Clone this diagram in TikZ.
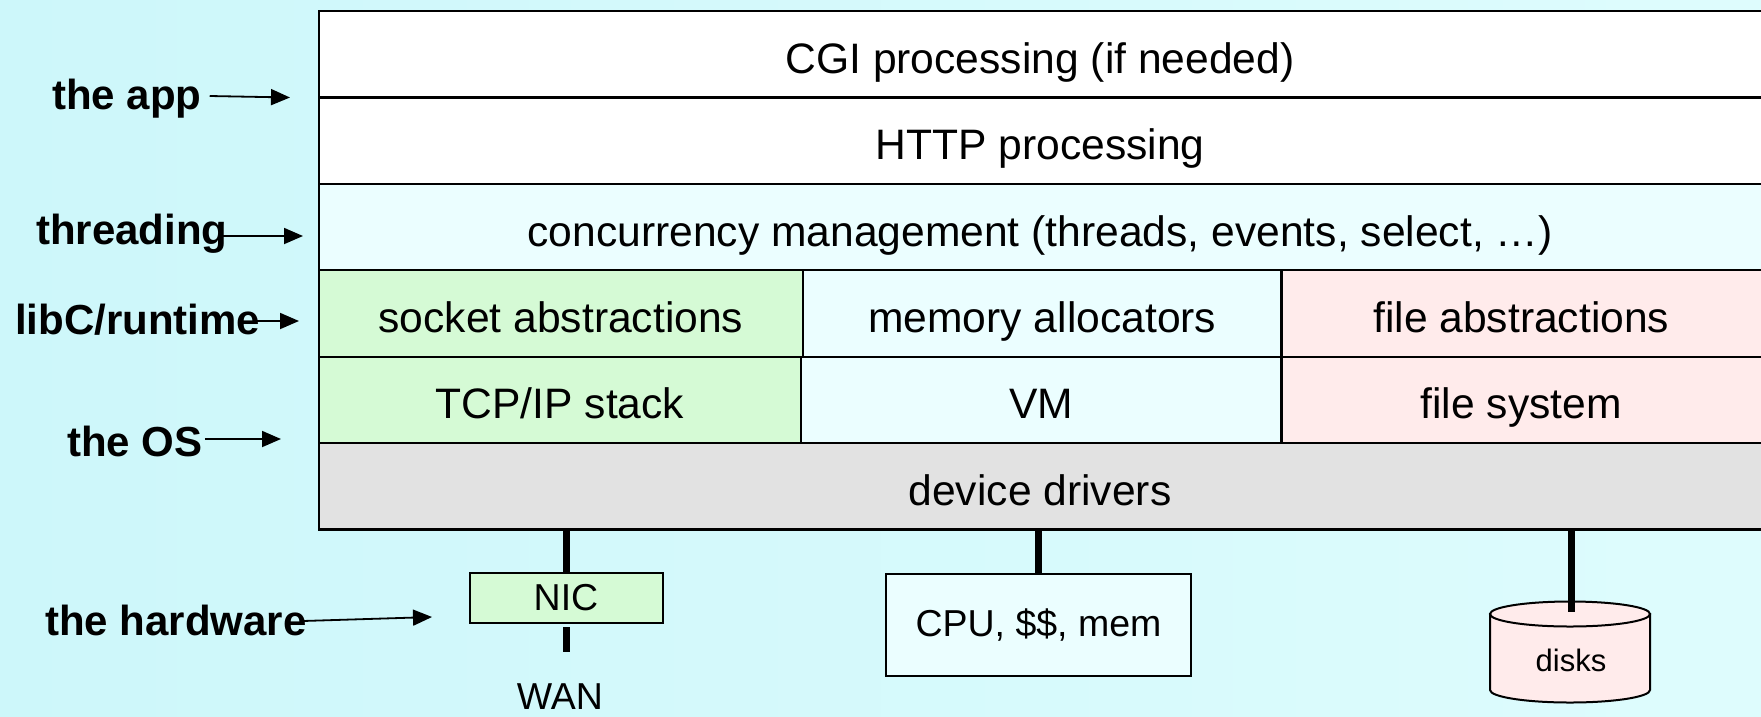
\documentclass[tikz,border=0pt]{standalone}
\usepackage{fontspec}
\setmainfont{Liberation Sans}
\usepackage{tikz}
\usetikzlibrary{arrows.meta,calc,positioning}
\definecolor{BackLeft}{HTML}{CDF7FA}
\definecolor{BackRight}{HTML}{DEFCFD}
\definecolor{LayerCyan}{HTML}{EBFEFF}
\definecolor{LayerGreen}{HTML}{D5FAD5}
\definecolor{LayerPink}{HTML}{FFEBEB}
\definecolor{LayerGray}{HTML}{E2E2E2}

\begin{document}
\begin{tikzpicture}[
  x=1pt,y=-1pt,
  >={Triangle[length=19pt,width=16pt]},
  line join=miter,
  every node/.style={font=\fontsize{42.6}{50}\selectfont,text=black},
  layer/.style={draw=black,line width=2.2pt,inner sep=0pt,outer sep=0pt,
    text height=38pt,text depth=0pt,
    minimum height=\rowheight pt,anchor=north west},
  caption/.style={inner sep=0pt,text height=38pt,text depth=0pt},
  tag/.style={font=\fontsize{42}{50}\selectfont\bfseries,inner sep=0pt},
  pointer/.style={->,line width=1.8pt},
  wire/.style={line width=7pt},
  device/.style={draw=black,line width=2pt,inner sep=0pt,
    font=\fontsize{37.5}{44}\selectfont}
]
  \pgfmathsetmacro{\rowheight}{86.4}
  \pgfmathsetmacro{\stackleft}{319}
  \pgfmathsetmacro{\stacktop}{11}
  \pgfmathsetmacro{\colone}{803}
  \pgfmathsetmacro{\coltwo}{1281.5}
  \pgfmathsetmacro{\stackright}{1765}

  \clip (0,0) rectangle (1761,716);
  \shade[left color=BackLeft,right color=BackRight]
    (0,0) rectangle (1761,716);

  % the layer stack
  \node[layer,fill=white,minimum width={\stackright-\stackleft}]
    (cgi) at (\stackleft,\stacktop) {};
  \node[caption] at ($(\stackleft,0)!.5!(1761,0)+(0,{\stacktop+0.5*\rowheight})$)
    {CGI processing (if needed)};
  \node[layer,fill=white,minimum width={\stackright-\stackleft}]
    (http) at (cgi.south west) {};
  \node[caption] at ($(\stackleft,0)!.5!(1761,0)+(0,{\stacktop+1.5*\rowheight})$)
    {HTTP processing};
  \node[layer,fill=LayerCyan,minimum width={\stackright-\stackleft}]
    (conc) at (http.south west) {};
  \node[caption] at ($(\stackleft,0)!.5!(1761,0)+(0,{\stacktop+2.5*\rowheight})$)
    {concurrency management (threads, events, select, \dots)};

  \node[layer,fill=LayerGreen,minimum width={\colone-\stackleft}]
    (sockabs) at (conc.south west) {socket abstractions};
  \node[layer,fill=LayerCyan,minimum width={\coltwo-\colone}]
    (memalloc) at (sockabs.north east) {memory allocators};
  \node[layer,fill=LayerPink,minimum width={\stackright-\coltwo}]
    (fileabs) at (memalloc.north east) {};
  \node[caption] at ($(\coltwo,0)!.5!(1761,0)+(0,{\stacktop+3.5*\rowheight})$)
    {file abstractions};

  \node[layer,fill=LayerGreen,minimum width={\colone-2-\stackleft}]
    (tcpip) at (sockabs.south west) {TCP/IP stack};
  \node[layer,fill=LayerCyan,minimum width={\coltwo-\colone+2}]
    (vm) at (tcpip.north east) {VM};
  \node[layer,fill=LayerPink,minimum width={\stackright-\coltwo}]
    (filesys) at (vm.north east) {};
  \node[caption] at ($(\coltwo,0)!.5!(1761,0)+(0,{\stacktop+4.5*\rowheight})$)
    {file system};

  \node[layer,fill=LayerGray,minimum width={\stackright-\stackleft}]
    (drivers) at (tcpip.south west) {};
  \node[caption] at ($(\stackleft,0)!.5!(1761,0)+(0,{\stacktop+5.5*\rowheight})$)
    {device drivers};

  % the hardware
  \node[device,fill=LayerGreen,minimum width=193pt,minimum height=50pt]
    (nic) at (566,598) {NIC};
  \node[inner sep=0pt,font=\fontsize{37.5}{44}\selectfont]
    (wan) at (560,697) {WAN};
  \coordinate (wanend) at ($(nic.south)+(0,28)$);
  \node[device,fill=LayerCyan,minimum width=305pt,minimum height=102pt]
    (cpu) at (1038.5,625) {CPU, \$\$, mem};

  \path[fill=LayerPink,draw=black,line width=2pt]
    (1490,614) -- (1490,690)
    arc[start angle=180,end angle=0,x radius=80,y radius=12.5]
    -- (1650,614) -- cycle;
  \draw[line width=2pt,fill=LayerPink]
    (1570,614) ellipse[x radius=80,y radius=12.5];
  \node[inner sep=0pt,font=\fontsize{31}{36}\selectfont]
    (disks) at (1571,660) {disks};
  \coordinate (disktop) at (1571,612);

  \draw[wire] (drivers.south -| nic.north) -- (nic.north);
  \draw[wire] ($(nic.south)+(0,3)$) -- (wanend);
  \draw[wire] (drivers.south -| cpu.north) -- (cpu.north);
  \draw[wire] (drivers.south -| disktop) -- (disktop);

  % the level tags
  \node[tag,anchor=west] (app) at (52,99) {the app};
  \coordinate (apptip) at (290,97.5);
  \draw[pointer] ($(app.east)+(8,-3)$) -- (apptip);

  \node[tag,anchor=west] (threads) at (36,234) {threading};
  \coordinate (threadtip) at (303,236);
  \draw[pointer] ($(threads.east)+(-8,2)$) -- (threadtip);

  \node[tag,anchor=west] (libc) at (15,320) {libC/runtime};
  \coordinate (libctip) at (299,321);
  \draw[pointer] ($(libc.east)+(-4,1)$) -- (libctip);

  \node[tag,anchor=west] (os) at (67,441) {the OS};
  \coordinate (ostip) at (281,439);
  \draw[pointer] ($(os.east)+(2,-2)$) -- (ostip);

  \node[tag,anchor=west] (hw) at (45,620) {the hardware};
  \coordinate (hwtip) at (432,617);
  \draw[pointer] ($(hw.east)+(-4,1)$) -- (hwtip);
\end{tikzpicture}
\end{document}
